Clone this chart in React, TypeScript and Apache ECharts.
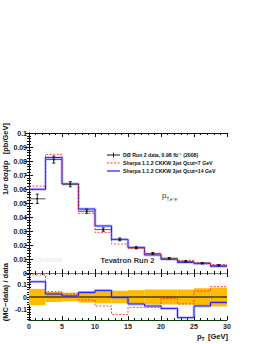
import React, { useEffect, useRef } from "react";
import * as echarts from "echarts";

const binEdges = [0, 2.5, 5, 7.5, 10, 12.5, 15, 17.5, 20, 22.5, 25, 27.5, 30];
const dataVals = [0.053, 0.081, 0.0634, 0.0441, 0.031, 0.024, 0.018, 0.014, 0.0105, 0.0083, 0.007, 0.0055];
const dataErrs = [0.0033, 0.0025, 0.0018, 0.0015, 0.0012, 0.001, 0.0008, 0.0007, 0.0006, 0.0005, 0.0005, 0.0004];
const sherpa7 = [0.0621, 0.0848, 0.0636, 0.0426, 0.029, 0.0207, 0.0176, 0.0135, 0.0105, 0.009, 0.0075, 0.006];
const sherpa14 = [0.0598, 0.0824, 0.0636, 0.0457, 0.0336, 0.024, 0.0183, 0.0129, 0.0098, 0.0076, 0.0067, 0.0048];
const ratio7 = [0.176, 0.043, 0.024, -0.024, -0.072, -0.139, -0.083, -0.083, -0.013, -0.056, 0.048, 0.083];
const ratio14 = [0.122, 0.024, 0.008, 0.037, 0.053, -0.003, -0.056, -0.072, -0.091, -0.165, -0.072, -0.043];
const bandErr = [0.065, 0.04, 0.035, 0.045, 0.05, 0.05, 0.055, 0.06, 0.06, 0.06, 0.07, 0.075];
const mainTicks = [0, 0.01, 0.02, 0.03, 0.04, 0.05, 0.06, 0.07, 0.08, 0.09, 0.1];
const ratioLabels = [-0.1, 0, 0.1];
const ratioMinor = [-0.18, -0.16, -0.14, -0.12, -0.1, -0.08, -0.06, -0.04, -0.02, 0, 0.02, 0.04, 0.06, 0.08, 0.1, 0.12, 0.14, 0.16, 0.18];

const stepData = (vals: number[]) => {
  const pts: number[][] = vals.map((v, i) => [binEdges[i], v]);
  pts.push([binEdges[binEdges.length - 1], vals[vals.length - 1]]);
  return pts;
};

const FONT = "Liberation Sans, Arial, sans-serif";
const AXC = "#111";
const RED = "#ff3030";
const BLUE = "#1a1aff";
const BLUEBAND = "rgba(110,110,255,0.4)";

export default function App() {
  const ref = useRef<HTMLDivElement>(null);
  useEffect(() => {
    const chart = echarts.init(ref.current!, null, { renderer: "svg" });
    const gridL = 29, gridR = 39;
    const xBase = (gridIndex: number, pos: string, labels: boolean, lineColor = AXC) => ({
      type: "value", gridIndex, position: pos, min: 0, max: 30, interval: 5,
      axisLine: { show: true, onZero: false, lineStyle: { color: lineColor, width: 1 } },
      axisTick: { show: true, inside: true, length: 4, lineStyle: { color: AXC } },
      minorTick: { show: true, splitNumber: 5, length: 2, lineStyle: { color: AXC } },
      splitLine: { show: false },
      axisLabel: labels ? { show: true, fontFamily: FONT, fontWeight: "bold", fontSize: 7, color: "#222", margin: 3 } : { show: false },
    });
    const option: any = {
      animation: false,
      grid: [
        { left: gridL, right: gridR, top: 133, height: 140 },
        { left: gridL, right: gridR, top: 273, height: 47 },
      ],
      xAxis: [
        xBase(0, "bottom", false, "#777"),
        xBase(0, "top", false),
        xBase(1, "bottom", true, "#0d3b0d"),
        xBase(1, "top", false, "#777"),
      ],
      yAxis: [
        {
          type: "value", gridIndex: 0, position: "left", min: 0, max: 0.1, interval: 0.01,
          axisLine: { show: true, lineStyle: { color: AXC } },
          axisTick: { show: true, inside: true, length: 4, lineStyle: { color: AXC } },
          minorTick: { show: true, splitNumber: 5, length: 2, lineStyle: { color: AXC } },
          splitLine: { show: false },
          axisLabel: {
            fontFamily: FONT, fontWeight: "bold", fontSize: 7, color: "#222", margin: 2,
            formatter: (v: number) => (mainTicks.some((t) => Math.abs(t - v) < 1e-9) ? (v === 0 ? "0" : String(+v.toFixed(2))) : ""),
          },
        },
        {
          type: "value", gridIndex: 0, position: "right", min: 0, max: 0.1, interval: 0.01,
          axisLine: { show: true, lineStyle: { color: AXC } },
          axisTick: { show: true, inside: true, length: 4, lineStyle: { color: AXC } },
          minorTick: { show: true, splitNumber: 5, length: 2, lineStyle: { color: AXC } },
          splitLine: { show: false }, axisLabel: { show: false },
        },
        {
          type: "value", gridIndex: 1, position: "left", min: -0.184, max: 0.192,
          axisLine: { show: true, lineStyle: { color: "#0d3b0d" } },
          axisTick: { show: true, inside: true, length: 2, customValues: ratioMinor, lineStyle: { color: AXC } },
          splitLine: { show: false },
          axisLabel: {
            customValues: ratioLabels, fontFamily: FONT, fontWeight: "bold", fontSize: 7, color: "#222", margin: 2,
            formatter: (v: number) => (Math.abs(v) < 1e-9 ? "0" : String(+v.toFixed(1))),
          },
        },
        {
          type: "value", gridIndex: 1, position: "right", min: -0.184, max: 0.192,
          axisLine: { show: true, lineStyle: { color: AXC } },
          axisTick: { show: true, inside: true, length: 2, customValues: ratioMinor, lineStyle: { color: AXC } },
          splitLine: { show: false }, axisLabel: { show: false },
        },
      ],
      series: [
        {
          type: "custom", xAxisIndex: 2, yAxisIndex: 2, z: 1,
          data: bandErr.map((e, i) => [binEdges[i], binEdges[i + 1], e]),
          renderItem: (params: any, api: any) => {
            const p0 = api.coord([api.value(0), api.value(2)]);
            const p1 = api.coord([api.value(1), -api.value(2)]);
            return {
              type: "rect",
              shape: { x: p0[0], y: p0[1], width: p1[0] - p0[0], height: p1[1] - p0[1] },
              style: { fill: "#ffbb00" },
            };
          },
        },
        {
          type: "line", xAxisIndex: 2, yAxisIndex: 2, z: 2, symbol: "none",
          data: [[0, 0], [30, 0]],
          lineStyle: { color: "#7a5c00", width: 2 },
        },
        {
          type: "line", xAxisIndex: 0, yAxisIndex: 0, step: "end", symbol: "none", z: 3,
          data: stepData(sherpa14), lineStyle: { color: BLUEBAND, width: 3 },
        },
        {
          type: "line", xAxisIndex: 0, yAxisIndex: 0, step: "end", symbol: "none", z: 4,
          data: stepData(sherpa14), lineStyle: { color: BLUE, width: 1 },
        },
        {
          type: "line", xAxisIndex: 0, yAxisIndex: 0, step: "end", symbol: "none", z: 5,
          data: stepData(sherpa7), lineStyle: { color: RED, width: 0.9, type: [2, 1.5] },
        },
        {
          type: "line", xAxisIndex: 2, yAxisIndex: 2, step: "end", symbol: "none", z: 3,
          data: stepData(ratio14), lineStyle: { color: BLUEBAND, width: 3 },
        },
        {
          type: "line", xAxisIndex: 2, yAxisIndex: 2, step: "end", symbol: "none", z: 4,
          data: stepData(ratio14), lineStyle: { color: BLUE, width: 1 },
        },
        {
          type: "line", xAxisIndex: 2, yAxisIndex: 2, step: "end", symbol: "none", z: 5,
          data: stepData(ratio7), lineStyle: { color: RED, width: 0.9, type: [2, 1.5] },
        },
        {
          type: "custom", xAxisIndex: 0, yAxisIndex: 0, z: 6,
          data: dataVals.map((v, i) => [binEdges[i], binEdges[i + 1], v, dataErrs[i]]),
          renderItem: (params: any, api: any) => {
            const xl = api.value(0), xh = api.value(1), y = api.value(2), e = api.value(3);
            const xm = (xl + xh) / 2;
            const pl = api.coord([xl, y]);
            const ph = api.coord([xh, y]);
            const pt = api.coord([xm, y + e]);
            const pb = api.coord([xm, y - e]);
            return {
              type: "group",
              children: [
                { type: "line", shape: { x1: pl[0], y1: pl[1], x2: ph[0], y2: ph[1] }, style: { stroke: "#555", lineWidth: 1 } },
                { type: "line", shape: { x1: pt[0], y1: pt[1], x2: pb[0], y2: pb[1] }, style: { stroke: "#111", lineWidth: 0.9 } },
                { type: "line", shape: { x1: pt[0] - 1.5, y1: pt[1], x2: pt[0] + 1.5, y2: pt[1] }, style: { stroke: "#111", lineWidth: 0.9 } },
                { type: "line", shape: { x1: pb[0] - 1.5, y1: pb[1], x2: pb[0] + 1.5, y2: pb[1] }, style: { stroke: "#111", lineWidth: 0.9 } },
                { type: "circle", shape: { cx: pl[0] + (ph[0] - pl[0]) / 2, cy: pl[1], r: 0.9 }, style: { fill: "#111" } },
              ],
            };
          },
        },
      ],
      graphic: [
        { type: "line", z: 100, shape: { x1: 107, y1: 155, x2: 120, y2: 155 }, style: { stroke: "#111", lineWidth: 1 } },
        { type: "line", z: 100, shape: { x1: 113.5, y1: 152.5, x2: 113.5, y2: 157.5 }, style: { stroke: "#111", lineWidth: 0.9 } },
        { type: "text", z: 100, x: 123, y: 155, style: { text: "DØ Run 2 data, 0.98 fb⁻¹ (2008)", font: `bold 5.2px ${FONT}`, fill: "#111", verticalAlign: "middle" } },
        { type: "line", z: 100, shape: { x1: 107, y1: 163, x2: 120, y2: 163 }, style: { stroke: RED, lineWidth: 1, lineDash: [2, 1.5] } },
        { type: "text", z: 100, x: 123, y: 163, style: { text: "Sherpa 1.1.2 CKKW 3jet Qcut=7 GeV", font: `bold 5.2px ${FONT}`, fill: "#111", verticalAlign: "middle" } },
        { type: "line", z: 100, shape: { x1: 107, y1: 171, x2: 120, y2: 171 }, style: { stroke: BLUE, lineWidth: 1.2 } },
        { type: "text", z: 100, x: 123, y: 171, style: { text: "Sherpa 1.1.2 CKKW 3jet Qcut=14 GeV", font: `bold 5.2px ${FONT}`, fill: "#111", verticalAlign: "middle" } },
        { type: "text", z: 100, x: 162, y: 195, style: { text: "p", font: `8px ${FONT}`, fill: "#333", verticalAlign: "middle" } },
        { type: "text", z: 100, x: 166.5, y: 199, style: { text: "T,e⁺e⁻", font: `4.5px ${FONT}`, fill: "#333", verticalAlign: "middle" } },
        { type: "text", z: 100, x: 127.5, y: 260.5, style: { text: "Tevatron Run 2", font: `bold 7.5px ${FONT}`, fill: "#333", align: "center", verticalAlign: "middle" } },
        { type: "text", z: 0, x: 50.5, y: 259.5, style: { text: "SHERPA", font: `bold 6px ${FONT}`, fill: "#ececec", align: "center", verticalAlign: "middle" } },
        { type: "text", z: 100, x: 5.5, y: 123, rotation: Math.PI / 2, style: { text: "1/σ dσ/dp   [pb/GeV]", font: `bold 7.5px ${FONT}`, fill: "#111", align: "right", verticalAlign: "middle" } },
        { type: "text", z: 100, x: 8.5, y: 169.5, rotation: Math.PI / 2, style: { text: "T", font: `bold 5px ${FONT}`, fill: "#111", align: "right", verticalAlign: "middle" } },
        { type: "text", z: 100, x: 5.5, y: 263, rotation: Math.PI / 2, style: { text: "(MC−data) / data", font: `bold 7.5px ${FONT}`, fill: "#111", align: "right", verticalAlign: "middle" } },
        { type: "text", z: 100, x: 197, y: 336, style: { text: "p", font: `bold 7.5px ${FONT}`, fill: "#111", verticalAlign: "middle" } },
        { type: "text", z: 100, x: 201.5, y: 339, style: { text: "T", font: `bold 5px ${FONT}`, fill: "#111", verticalAlign: "middle" } },
        { type: "text", z: 100, x: 208, y: 336, style: { text: "[GeV]", font: `bold 7.5px ${FONT}`, fill: "#111", verticalAlign: "middle" } },
      ],
    };
    chart.setOption(option);
    return () => chart.dispose();
  }, []);
  return <div ref={ref} style={{ position: "fixed", left: 0, top: 0, width: 266, height: 344, background: "#fff" }} />;
}
